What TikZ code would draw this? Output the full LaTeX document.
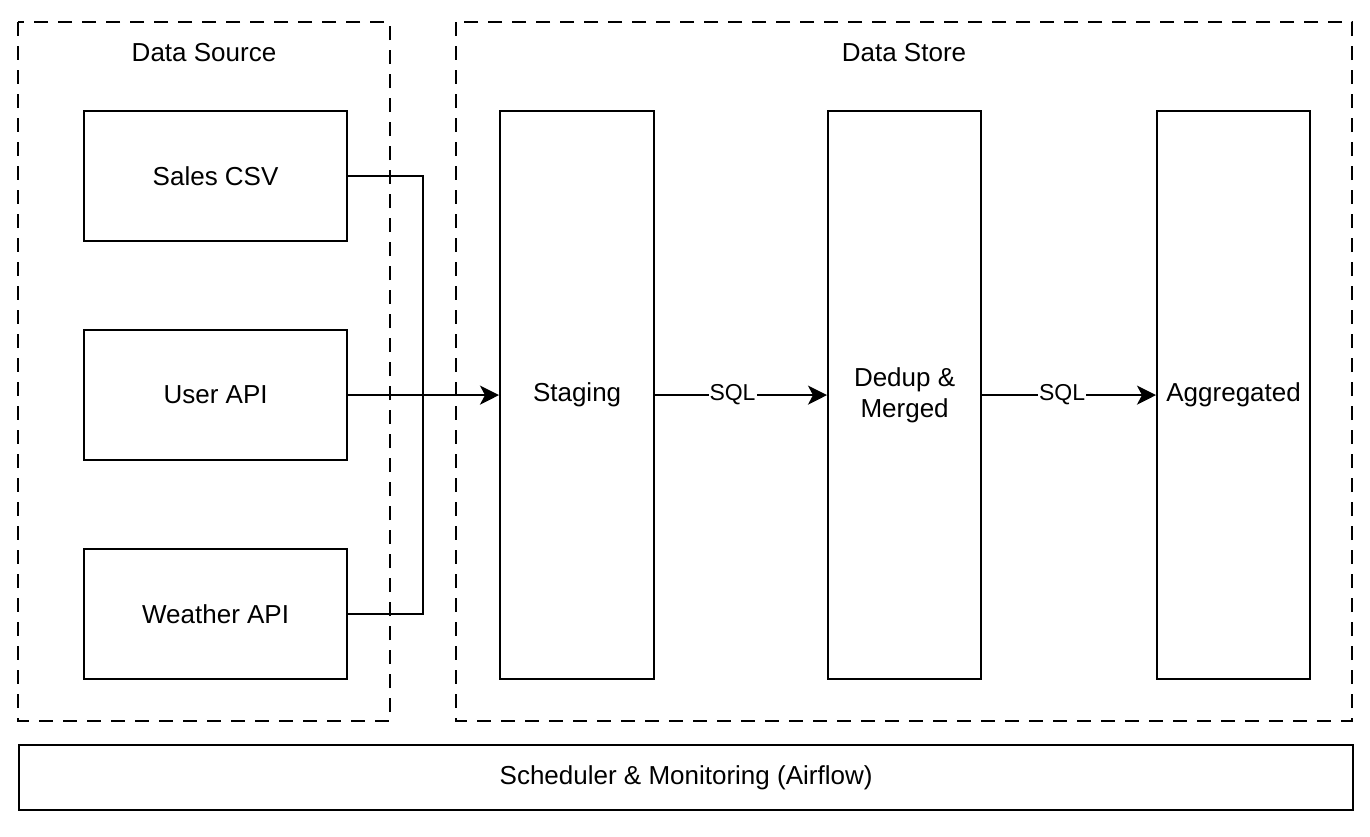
\documentclass[tikz,border=0pt]{standalone}
\usepackage{fontspec}
\setmainfont{Liberation Sans}
\usetikzlibrary{arrows.meta}
\begin{document}
\begin{tikzpicture}[x=1pt,y=-1pt,
  lw/.style={line width=2.2pt},
  grp/.style={lw,dash pattern=on 14pt off 10pt},
  box/.style={lw,draw,rectangle,anchor=north west,inner sep=0pt,font=\fontsize{26}{31}\selectfont,align=center},
  conn/.style={lw,-{Stealth[length=19pt,width=19pt,inset=5pt]}},
  lbl/.style={fill=white,inner sep=1pt,font=\fontsize{23}{27}\selectfont},
  ttl/.style={font=\fontsize{26}{31}\selectfont}]
\useasboundingbox (0,0) rectangle (1370,836);
% groups
\draw[grp] (18,22) rectangle (390,721);
\draw[grp] (456,22) rectangle (1352,721);
\node[ttl] (tsrc) at (204,53) {Data Source};
\node[ttl] (tstore) at (904,53) {Data Store};
% source nodes
\node[box,minimum width=263pt,minimum height=130pt] (sales) at (83,110) {Sales CSV};
\node[box,minimum width=263pt,minimum height=130pt] (user) at (83,329) {User API};
\node[box,minimum width=263pt,minimum height=130pt] (weather) at (83,548) {Weather API};
% store nodes
\node[box,minimum width=154pt,minimum height=568pt] (staging) at (499,110) {Staging};
\node[box,minimum width=153pt,minimum height=568pt] (dedup) at (827,110) {Dedup \&\\Merged};
\node[box,minimum width=153pt,minimum height=568pt] (agg) at (1156,110) {Aggregated};
% scheduler
\node[box,minimum width=1334pt,minimum height=65pt] (sched) at (18,744) {Scheduler \& Monitoring (Airflow)};
% connectors
\coordinate (jx) at (423,394);
\draw[lw] (sales.east) -| (jx);
\draw[lw] (weather.east) -| (jx);
\draw[conn] (user.east) -- (staging.west);
\draw[conn] (staging.east) -- node[lbl,pos=0.45] {SQL} (dedup.west);
\draw[conn] (dedup.east) -- node[lbl,pos=0.46] {SQL} (agg.west);
\end{tikzpicture}
\end{document}
